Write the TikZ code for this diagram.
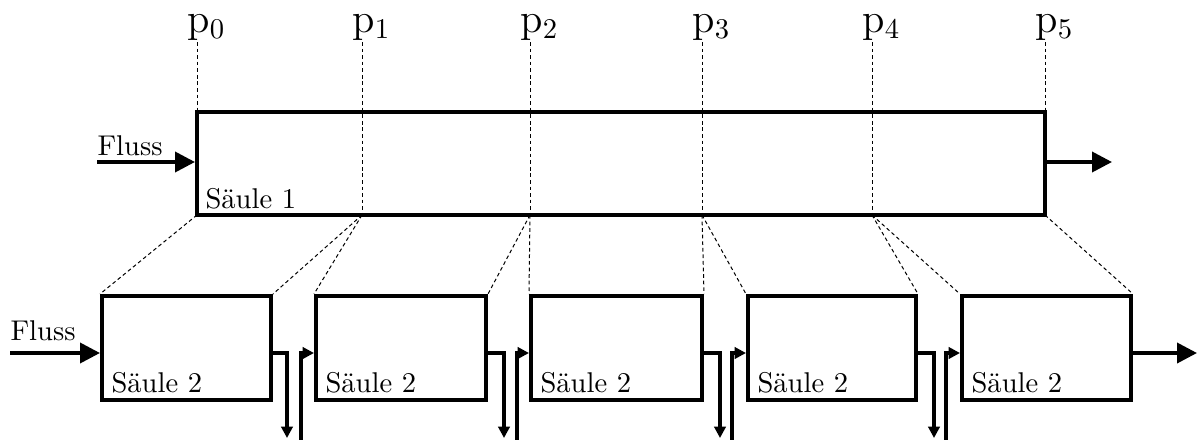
\documentclass[tikz,border=0pt]{standalone}
\usepackage{fontspec}
\usetikzlibrary{arrows.meta,fit}
\begin{document}
\begin{tikzpicture}[x=0.35pt,y=-0.35pt,
  box/.style={draw,line width=1.4pt,inner sep=0pt},
  dline/.style={dash pattern=on 1.3pt off 1pt,line width=0.35pt},
  flow/.style={line width=1.3pt,-{Triangle[length=7pt,width=7pt]}},
  link/.style={line width=1.1pt,-{Triangle[length=4pt,width=4pt]}},
  lab/.style={inner sep=0pt,anchor=base west},
  plab/.style={inner sep=0pt,anchor=base west,font=\Large}]
\useasboundingbox (0,0) rectangle (1199,439);
% top column
\node[box,fit={(197,112) (1045,215)}] (S1) {};
\node[lab] (t1) at (205,208) {Säule 1};
% p labels and dashed lines
\foreach \x [count=\i from 0] in {197,362,530,702,872,1045}{
  \node[plab] (l\i) at (\x-10,32) {$\mathrm{p}_{\i}$};
  \coordinate (p\i) at (\x,215);
  \draw[dline] (p\i |- 0,42) -- (p\i);
}
% inflow/outflow top
\coordinate (fin1) at (97,162);
\node[lab] (f1) at (97,155) {Fluss};
\draw[flow] (fin1) -- (fin1 -| S1.west);
\coordinate (fout1) at (1112,162);
\draw[flow] (fout1 -| S1.east) -- (fout1);
% lower columns
\foreach \l/\r [count=\i] in {102/271,316/486,531/702,748/916,962/1131}{
  \node[box,fit={(\l,296) (\r,400)}] (B\i) {};
  \node[lab] (tb\i) at (\l+9,392) {Säule 2};
}
% dashed fan lines
\draw[dline] (p0) -- (B1.north west);
\draw[dline] (p1) -- (B1.north east);
\draw[dline] (p1) -- (B2.north west);
\draw[dline] (p2) -- (B2.north east);
\draw[dline] (p2) -- (B3.north west);
\draw[dline] (p3) -- (B3.north east);
\draw[dline] (p3) -- (B4.north west);
\draw[dline] (p4) -- (B4.north east);
\draw[dline] (p4) -- (B5.north west);
\draw[dline] (p5) -- (B5.north east);
% inflow/outflow bottom
\node[lab] (f2) at (10,340) {Fluss};
\coordinate (fin2) at (10,353);
\draw[flow] (fin2) -- (fin2 -| B1.west);
\coordinate (fout2) at (1197,353);
\draw[flow] (fout2 -| B5.east) -- (fout2);
% links between columns
\foreach \i/\j/\d/\u in {1/2/287/301,2/3/504/517,3/4/720/732,4/5/934/946}{
  \coordinate (dn\i) at (\d,438);
  \coordinate (up\i) at (\u,445);
  \draw[link] (B\i.east |- 0,353) -| (dn\i);
  \draw[link] (up\i) |- (B\j.west |- 0,353);
}
\end{tikzpicture}
\end{document}
